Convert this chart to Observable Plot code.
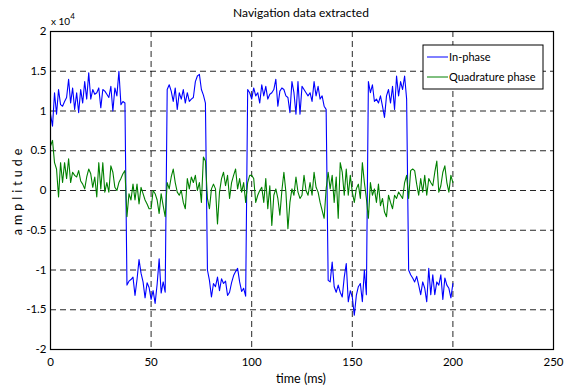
<!DOCTYPE html>
<html>
<head>
<meta charset="utf-8">
<script src="https://cdn.jsdelivr.net/npm/d3@7"></script>
<script src="https://cdn.jsdelivr.net/npm/@observablehq/plot@0.6"></script>
<style>
  html, body { margin: 0; padding: 0; background: white; }
  #chart { width: 569px; height: 389px; }
</style>
</head>
<body>
<div id="chart"></div>
<script>
// ---- Data (amplitude in units of 1e4, one sample per ms starting at t = 0) ----
const inPhase = [
  0.96,0.81,1.23,0.96,1.27,1.08,1.06,1.12,1.17,1.40,1.10,1.29,1.02,1.23,0.98,1.27,1.10,1.37,1.15,1.48,
  1.15,1.27,1.21,1.23,1.29,1.04,1.27,1.25,1.21,1.17,1.31,1.00,1.29,1.19,1.50,1.08,1.12,1.10,
  -1.19,-1.14,-1.12,-1.09,-1.32,-1.12,-0.87,-1.04,-1.15,-1.35,-1.16,-1.22,-1.37,-1.26,-1.42,-1.18,-0.86,-1.29,-1.15,-1.28,
  1.27,1.33,1.25,1.12,1.29,1.02,1.23,1.15,1.27,1.10,1.23,1.12,1.15,1.17,1.37,1.44,1.46,1.27,1.20,1.10,
  -1.00,-1.13,-1.34,-1.17,-1.21,-1.09,-1.26,-1.11,-1.17,-1.14,-1.32,-1.28,-1.16,-1.07,-1.02,-0.98,-1.15,-1.27,-1.23,-1.33,
  1.27,1.23,1.15,1.29,1.19,1.23,1.10,1.33,1.19,1.31,1.15,1.21,1.23,1.27,1.40,1.06,1.25,1.29,1.27,1.19,
  1.17,0.98,1.37,1.23,0.96,1.37,0.96,1.31,1.27,1.23,1.19,1.23,1.12,1.37,1.19,1.31,1.15,1.19,1.06,1.02,
  -1.13,-1.15,-0.90,-1.21,-1.28,-1.19,-1.28,-1.34,-1.09,-0.92,-1.40,-1.26,-1.34,-1.57,-1.32,-1.21,-1.17,-1.40,-1.00,-1.31,
  1.37,1.23,1.33,1.12,1.15,1.10,1.19,1.06,0.92,1.19,1.27,1.10,1.31,1.02,1.44,1.19,1.37,1.27,1.44,1.15,
  -1.00,-1.06,-1.10,-1.15,-1.08,-1.19,-1.31,-1.15,-1.23,-1.40,-0.98,-1.31,-1.06,-1.31,-1.15,-1.19,-1.06,-1.37,-1.10,-1.19,
  -1.23,-1.35,-1.17
];
const quadrature = [
  0.56,0.63,0.35,0.27,-0.08,0.35,0.10,0.35,0.15,0.40,0.10,0.23,0.19,0.17,0.25,0.12,0.08,0.02,0.17,0.27,
  0.21,0.04,0.17,-0.08,0.35,0.02,0.35,-0.02,0.10,-0.02,0.31,0.23,0.04,0.00,0.10,0.15,0.21,0.25,
  -0.33,-0.04,-0.12,0.08,-0.12,0.08,-0.17,0.04,-0.04,-0.12,-0.17,-0.23,-0.23,0.00,-0.04,-0.12,-0.29,-0.04,-0.19,-0.33,
  0.10,0.02,0.17,0.27,0.10,-0.02,-0.06,0.00,-0.15,-0.23,0.15,0.02,0.17,0.10,0.19,0.00,0.10,-0.15,0.42,0.37,
  -0.10,-0.23,0.02,0.08,0.02,-0.42,-0.02,0.15,0.23,0.06,0.19,-0.10,0.10,0.19,0.27,0.02,0.15,-0.02,0.10,-0.15,
  0.10,0.19,0.19,0.15,-0.15,-0.06,0.00,0.04,-0.15,0.15,-0.23,0.06,-0.44,-0.06,0.02,-0.10,-0.31,0.00,0.23,-0.02,
  -0.48,-0.15,0.02,-0.06,0.17,-0.02,-0.10,-0.06,0.19,0.00,-0.06,0.10,-0.06,0.23,0.04,-0.02,-0.15,-0.25,-0.35,0.02,
  0.23,0.02,0.19,-0.15,0.17,-0.35,0.35,0.23,-0.06,0.27,-0.06,0.19,-0.02,-0.15,0.02,0.08,-0.10,0.35,0.10,-0.10,
  -0.35,0.10,-0.06,0.02,-0.15,0.08,-0.19,-0.10,-0.27,-0.33,-0.06,-0.15,-0.23,-0.06,-0.10,-0.02,-0.06,-0.10,0.10,0.19,
  -0.10,0.25,0.27,0.25,0.08,-0.06,0.15,-0.02,0.19,-0.06,0.15,0.10,0.06,0.23,0.37,-0.02,0.06,0.23,0.31,0.10,
  -0.02,0.19,0.10
];
const scaleFactor = 1e4;
const xTicks = [0, 50, 100, 150, 200, 250];
const yTicks = [-20000, -15000, -10000, -5000, 0, 5000, 10000, 15000, 20000];
const seriesNames = ["In-phase", "Quadrature phase"];
const seriesColors = ["#0000ff", "#008000"];
const titleText = "Navigation data extracted";
const xLabel = "time (ms)";
const yLabel = "amplitude";

// ---- Table ----
const rows = [];
inPhase.forEach((v, i) => rows.push({t: i, value: v * scaleFactor, series: seriesNames[0]}));
quadrature.forEach((v, i) => rows.push({t: i, value: v * scaleFactor, series: seriesNames[1]}));

const font = "Lato, 'Open Sans', sans-serif";

const plot = Plot.plot({
  width: 569,
  height: 389,
  marginLeft: 50,
  marginRight: 16,
  marginTop: 31,
  marginBottom: 40,
  style: {fontFamily: font, fontSize: "11px", background: "white", color: "#000"},
  x: {domain: [0, 250], label: null},
  y: {domain: [-20000, 20000], label: null},
  color: {domain: seriesNames, range: seriesColors},
  marks: [
    Plot.gridX(xTicks.slice(1, -1), {stroke: "#000", strokeOpacity: 0.85, strokeDasharray: "6,4"}),
    Plot.gridY(yTicks.slice(1, -1), {stroke: "#000", strokeOpacity: 0.85, strokeDasharray: "6,4"}),
    Plot.line(rows, {x: "t", y: "value", z: "series", stroke: "series", strokeWidth: 1.1}),
    Plot.frame({stroke: "#000", strokeWidth: 1.2}),
    Plot.axisX(xTicks, {tickSize: 0, tickPadding: 8, fontSize: 11.5, tickFormat: d => String(d)}),
    Plot.axisY(yTicks, {tickSize: 0, tickPadding: 4, fontSize: 11.5, tickFormat: d => String(d / scaleFactor)})
  ]
});

const svg = d3.select(plot);
// title
svg.append("text").attr("x", 301).attr("y", 17).attr("text-anchor", "middle")
  .attr("font-family", font).attr("font-size", 12).text(titleText);
// exponent label
const ex = svg.append("text").attr("x", 51).attr("y", 25).attr("text-anchor", "start")
  .attr("font-family", font).attr("font-size", 10);
ex.append("tspan").text("x 10");
ex.append("tspan").attr("dy", -6).attr("font-size", 8).text("4");
// axis labels
svg.append("text").attr("x", 301).attr("y", 383).attr("text-anchor", "middle")
  .attr("font-family", font).attr("font-size", 12.5).text(xLabel);
svg.append("text").attr("transform", "translate(22,190) rotate(-90)").attr("text-anchor", "middle")
  .attr("font-family", font).attr("font-size", 12.5).attr("letter-spacing", "4px").text(yLabel);
// legend
const lg = svg.append("g");
lg.append("rect").attr("x", 423).attr("y", 45).attr("width", 120).attr("height", 44)
  .attr("fill", "white").attr("stroke", "#000").attr("stroke-width", 1);
seriesNames.forEach((name, i) => {
  const y = 57 + i * 20;
  lg.append("line").attr("x1", 427).attr("x2", 448).attr("y1", y).attr("y2", y)
    .attr("stroke", seriesColors[i]).attr("stroke-width", 1);
  lg.append("text").attr("x", 449).attr("y", y + 4).attr("text-anchor", "start")
    .attr("font-family", font).attr("font-size", 11).text(name);
});

document.getElementById("chart").appendChild(plot);
</script>
</body>
</html>
